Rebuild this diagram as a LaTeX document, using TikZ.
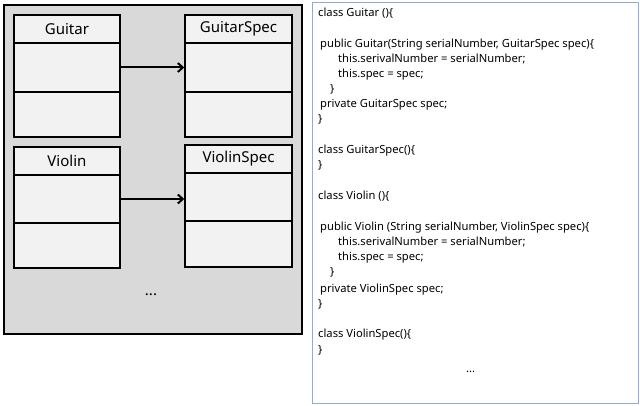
\documentclass[tikz,border=0pt]{standalone}
\usepackage{fontspec}
\setmainfont{Noto Sans}
\usetikzlibrary{arrows.meta}
\definecolor{panelgrey}{HTML}{D9D9D9}
\definecolor{boxfill}{HTML}{F2F2F2}
\definecolor{codeframe}{HTML}{8FAADC}
\begin{document}
\begin{tikzpicture}[x=1pt,y=-1pt,
  part/.style={draw=black,line width=2pt,fill=boxfill,rectangle,inner sep=0pt,
    minimum width=106.5pt,anchor=north west,font=\fontsize{15}{17}\selectfont},
  codeline/.style={anchor=base west,inner sep=0pt,font=\fontsize{11.2}{13}\selectfont},
  link/.style={line width=2pt,-{Straight Barb[length=5pt,width=9pt,line width=2pt]}},
  ]
\useasboundingbox (0,0) rectangle (640,406);
% left panel
\node[draw=black,line width=2.4pt,fill=panelgrey,rectangle,inner sep=0pt,
  minimum width=298pt,minimum height=329pt,anchor=north west] (panel) at (3,4) {};
% Guitar
\node[part,minimum height=28pt] (gh) at (12.7,14) {Guitar};
\node[part,minimum height=49pt] (gb1) at (12.7,42) {};
\node[part,minimum height=45pt] (gb2) at (12.7,91) {};
% GuitarSpec
\node[part,minimum height=28pt] (sh) at (184.3,14) {GuitarSpec};
\node[part,minimum height=49pt] (sb1) at (184.3,42) {};
\node[part,minimum height=45pt] (sb2) at (184.3,91) {};
% Violin
\node[part,minimum height=28pt] (vh) at (12.7,146) {Violin};
\node[part,minimum height=48pt] (vb1) at (12.7,174) {};
\node[part,minimum height=45pt] (vb2) at (12.7,222) {};
% ViolinSpec
\node[part,minimum height=28pt] (wh) at (184.3,144) {ViolinSpec};
\node[part,minimum height=48pt] (wb1) at (184.3,172) {};
\node[part,minimum height=46pt] (wb2) at (184.3,220) {};
% arrows
\draw[link] (gb1.east) -- (sb1.west |- gb1.east);
\draw[link] (vb1.east) -- (wb1.west |- vb1.east);
\node[font=\fontsize{15}{17}\selectfont\bfseries,inner sep=0pt] (ldots) at (151,295) {...};
% right panel
\node[draw=codeframe,line width=1pt,fill=white,rectangle,inner sep=0pt,
  minimum width=326pt,minimum height=400pt,anchor=north west] (codebox) at (311.5,2.5) {};
\node[codeline] (c1) at (318,17) {class Guitar ()\{};
\node[codeline] (c3) at (320,48) {public Guitar(String serialNumber, GuitarSpec spec)\{};
\node[codeline] (c4) at (338,63) {this.serivalNumber = serialNumber;};
\node[codeline] (c5) at (338,78) {this.spec = spec;};
\node[codeline] (c6) at (330,93) {\}};
\node[codeline] (c7) at (320,108) {private GuitarSpec spec;};
\node[codeline] (c8) at (318,123) {\}};
\node[codeline] (c10) at (318,154) {class GuitarSpec()\{};
\node[codeline] (c11) at (318,169) {\}};
\node[codeline] (c13) at (318,200) {class Violin ()\{};
\node[codeline] (c15) at (320,231) {public Violin (String serialNumber, ViolinSpec spec)\{};
\node[codeline] (c16) at (338,246) {this.serivalNumber = serialNumber;};
\node[codeline] (c17) at (338,261) {this.spec = spec;};
\node[codeline] (c18) at (330,276) {\}};
\node[codeline] (c19) at (320,292) {private ViolinSpec spec;};
\node[codeline] (c20) at (318,307) {\}};
\node[codeline] (c22) at (318,337) {class ViolinSpec()\{};
\node[codeline] (c23) at (318,353) {\}};
\node[codeline,font=\fontsize{11.2}{13}\selectfont\bfseries] (c24) at (466,372) {...};
\end{tikzpicture}
\end{document}
